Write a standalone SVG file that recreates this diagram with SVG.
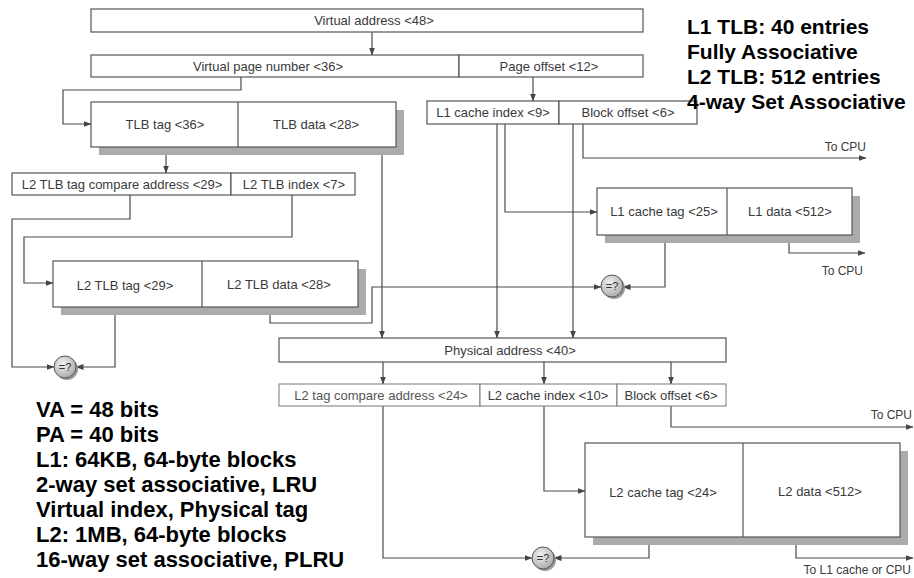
<svg xmlns="http://www.w3.org/2000/svg" width="914" height="578" viewBox="0 0 914 578">
<defs>
<marker id="arr" markerWidth="8" markerHeight="6" refX="7.5" refY="3" orient="auto" markerUnits="userSpaceOnUse">
<path d="M0,0 L8,3 L0,6 Z" fill="#444"/>
</marker>
<radialGradient id="cg" cx="0.4" cy="0.35" r="0.7">
<stop offset="0" stop-color="#f2f2f2"/>
<stop offset="1" stop-color="#a8a8a8"/>
</radialGradient>
</defs>
<style>
.box{fill:#fff;stroke:#555;stroke-width:1.2}
.lbox{fill:#fff;stroke:#777;stroke-width:1}
.sh{fill:#ababab}
.t{font-family:"Liberation Sans",Arial,sans-serif;font-size:13px;fill:#3a3a3a;text-anchor:middle}
.tl{font-family:"Liberation Sans",Arial,sans-serif;font-size:13px;fill:#555;text-anchor:middle}
.tr{font-family:"Liberation Sans",Arial,sans-serif;font-size:12px;fill:#3a3a3a;text-anchor:end}
.c{fill:none;stroke:#4a4a4a;stroke-width:1.2;marker-end:url(#arr)}
.cmp{fill:url(#cg);stroke:#555;stroke-width:1}
.cs{fill:#999}
.ct{font-family:"Liberation Sans",Arial,sans-serif;font-size:11px;fill:#333;text-anchor:middle}
.note{font-family:"Liberation Sans",Arial,sans-serif;font-size:21px;font-weight:bold;fill:#000}
.note2{font-family:"Liberation Sans",Arial,sans-serif;font-size:22px;font-weight:bold;fill:#000}
</style>

<g id="connectors">
<path class="c" d="M372,32 V55"/>
<path class="c" d="M533,77 V101"/>
<path class="c" d="M241,77 V90 H63 V124 H91"/>
<path class="c" d="M166,147 V173"/>
<path class="c" d="M382,147 V338"/>
<path class="c" d="M130,195 V219 H12 V367 H54"/>
<path class="c" d="M292,195 V237 H24 V283 H53"/>
<path class="c" d="M115,307 V367 H76"/>
<path class="c" d="M270,307 V323 H372 V287 H601"/>
<path class="c" d="M497,124 V338"/>
<path class="c" d="M505,124 V212 H597"/>
<path class="c" d="M573,124 V338"/>
<path class="c" d="M583,124 V158 H866"/>
<path class="c" d="M665,235 V287 H623"/>
<path class="c" d="M789,235 V253 H865"/>
<path class="c" d="M383,362 V384"/>
<path class="c" d="M544,362 V384"/>
<path class="c" d="M671,362 V384"/>
<path class="c" d="M383,406 V558 H532"/>
<path class="c" d="M544,406 V491 H585"/>
<path class="c" d="M671,406 V427 H913"/>
<path class="c" d="M649,537 V558 H554"/>
<path class="c" d="M796,537 V558 H913"/>
</g>

<g id="virtual-address">
<rect class="box" x="91" y="9" width="552" height="23"/>
<text class="t" x="374" y="25">Virtual address &lt;48&gt;</text>
</g>

<g id="vpn">
<rect class="box" x="91" y="55" width="368" height="22"/>
<text class="t" x="268" y="71">Virtual page number &lt;36&gt;</text>
</g>

<g id="page-offset">
<rect class="box" x="459" y="55" width="184" height="22"/>
<text class="t" x="549" y="71">Page offset &lt;12&gt;</text>
</g>

<g id="tlb">
<rect class="sh" x="99" y="110" width="305" height="45"/>
<rect class="box" x="91" y="102" width="305" height="45"/>
<line x1="238" y1="102" x2="238" y2="147" stroke="#555" stroke-width="1.2"/>
<text class="t" x="165" y="129">TLB tag &lt;36&gt;</text>
<text class="t" x="316" y="129">TLB data &lt;28&gt;</text>
</g>

<g id="l2tlb-addr">
<rect class="box" x="12" y="173" width="219" height="22"/>
<rect class="box" x="231" y="173" width="124" height="22"/>
<text class="t" x="122" y="189">L2 TLB tag compare address &lt;29&gt;</text>
<text class="t" x="294" y="189">L2 TLB index &lt;7&gt;</text>
</g>

<g id="l2tlb">
<rect class="sh" x="61" y="269" width="305" height="46"/>
<rect class="box" x="53" y="261" width="305" height="46"/>
<line x1="202" y1="261" x2="202" y2="307" stroke="#555" stroke-width="1.2"/>
<text class="t" x="125" y="290">L2 TLB tag &lt;29&gt;</text>
<text class="t" x="279" y="289">L2 TLB data &lt;28&gt;</text>
</g>

<g id="cmp-tlb">
<circle class="cs" cx="67" cy="369" r="11"/>
<circle class="cmp" cx="65" cy="367" r="11"/>
<text class="ct" x="65" y="371">=?</text>
</g>

<g id="l1-index">
<rect class="box" x="427" y="101" width="132" height="23"/>
<rect class="box" x="559" y="101" width="138" height="23"/>
<text class="t" x="493" y="117">L1 cache index &lt;9&gt;</text>
<text class="t" x="628" y="117">Block offset &lt;6&gt;</text>
</g>

<g id="to-cpu-1">
<text class="tr" x="866" y="151">To CPU</text>
</g>

<g id="l1-cache">
<rect class="sh" x="605" y="196" width="255" height="47"/>
<rect class="box" x="597" y="188" width="255" height="47"/>
<line x1="727" y1="188" x2="727" y2="235" stroke="#555" stroke-width="1.2"/>
<text class="t" x="664" y="216">L1 cache tag &lt;25&gt;</text>
<text class="t" x="790" y="216">L1 data &lt;512&gt;</text>
</g>

<g id="to-cpu-2">
<text class="tr" x="863" y="275">To CPU</text>
</g>

<g id="cmp-l1">
<circle class="cs" cx="614" cy="288" r="11"/>
<circle class="cmp" cx="612" cy="286" r="11"/>
<text class="ct" x="612" y="290">=?</text>
</g>

<g id="physical-address">
<rect class="box" x="279" y="338" width="447" height="24"/>
<text class="t" x="510" y="355">Physical address &lt;40&gt;</text>
</g>

<g id="l2-addr">
<rect class="lbox" x="279" y="384" width="201" height="22"/>
<rect class="lbox" x="480" y="384" width="137" height="22"/>
<rect class="lbox" x="617" y="384" width="109" height="22"/>
<text class="tl" x="381" y="400">L2 tag compare address &lt;24&gt;</text>
<text class="t" x="548" y="400">L2 cache index &lt;10&gt;</text>
<text class="t" x="671" y="400">Block offset &lt;6&gt;</text>
</g>

<g id="to-cpu-3">
<text class="tr" x="912" y="419">To CPU</text>
</g>

<g id="l2-cache">
<rect class="sh" x="593" y="451" width="315" height="94"/>
<rect class="box" x="585" y="443" width="315" height="94"/>
<line x1="743" y1="443" x2="743" y2="537" stroke="#555" stroke-width="1.2"/>
<text class="t" x="663" y="497">L2 cache tag &lt;24&gt;</text>
<text class="t" x="820" y="496">L2 data &lt;512&gt;</text>
</g>

<g id="cmp-l2">
<circle class="cs" cx="545" cy="560" r="11"/>
<circle class="cmp" cx="543" cy="558" r="11"/>
<text class="ct" x="543" y="562">=?</text>
</g>

<g id="to-l1">
<text class="tr" x="911" y="574">To L1 cache or CPU</text>
</g>

<g id="notes-tlb">
<text class="note" x="687" y="34">L1 TLB: 40 entries</text>
<text class="note" x="687" y="59">Fully Associative</text>
<text class="note" x="687" y="84">L2 TLB: 512 entries</text>
<text class="note" x="687" y="109">4-way Set Associative</text>
</g>

<g id="notes-cache">
<text class="note2" x="36" y="417">VA = 48 bits</text>
<text class="note2" x="36" y="442">PA = 40 bits</text>
<text class="note2" x="36" y="467">L1: 64KB, 64-byte blocks</text>
<text class="note2" x="36" y="492">2-way set associative, LRU</text>
<text class="note2" x="36" y="517">Virtual index, Physical tag</text>
<text class="note2" x="36" y="542">L2: 1MB, 64-byte blocks</text>
<text class="note2" x="36" y="567">16-way set associative, PLRU</text>
</g>
</svg>
